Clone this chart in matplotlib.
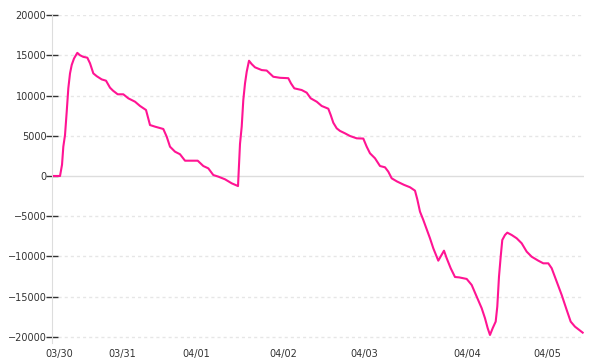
import matplotlib

matplotlib.use("Agg")
import matplotlib.pyplot as plt

# sample position (time index) and cumulative value
t = [2, 8, 10, 11.3, 13, 14.7, 16.3, 18, 19.7, 22, 25.3, 28, 31.3, 35.3, 38,
     41.3, 44.7, 49.7, 54, 58, 61, 65.7, 71.3, 76.3, 83, 88, 94, 98, 103,
     111.3, 114.7, 118, 123, 128, 133, 145.7, 151.3, 156.3, 161.3, 166.3,
     173, 179.7, 186, 188, 189.7, 191.3, 193, 194.7, 197, 199.7, 203, 209.7,
     214.7, 221.3, 228, 236.3, 239, 242.3, 249.7, 254.7, 258.7, 264.7, 269.7,
     276.3, 278.7, 281.3, 284.7, 288, 293, 298, 304.7, 311.3, 314.7, 318,
     323, 328, 333, 336.3, 339.7, 345, 352, 358, 363, 365.3, 368, 371.3,
     374.7, 378, 381.3, 386.3, 392, 394.7, 398.7, 403, 407.3, 414.7, 419.7,
     424.7, 429.7, 433, 435.7, 438, 440.7, 443.7, 445.3, 447, 448.7, 450.3,
     453, 455.3, 459.7, 464.7, 469.7, 474.7, 479.7, 486.3, 491.3, 496.3,
     499.7, 504.7, 509.7, 514.7, 518.7, 523, 530.7]
values = [0, 0, 1400, 3640, 5100, 8000, 10900, 12750, 13800, 14600, 15300,
          15000, 14800, 14700, 14000, 12750, 12400, 12000, 11840, 10970,
          10600, 10150, 10150, 9650, 9230, 8700, 8200, 6330, 6130, 5840, 4880,
          3640, 3020, 2700, 1900, 1900, 1240, 950, 120, -80, -410, -910, -1250,
          4000, 6130, 9440, 11500, 12950, 14320, 13900, 13500, 13160, 13100,
          12330, 12200, 12150, 11500, 10890, 10680, 10350, 9650, 9230, 8700,
          8360, 7580, 6620, 5920, 5600, 5300, 4970, 4680, 4650, 3640, 2820,
          2200, 1240, 1080, 540, -290, -680, -1100, -1400, -1820, -2900, -4430,
          -5460, -6620, -7740, -8980, -10520, -9280, -10220, -11460, -12550,
          -12600, -12790, -13540, -14990, -16430, -17670, -18910, -19750,
          -18910, -18090, -16230, -12510, -10030, -7950, -7330, -7040, -7330,
          -7740, -8360, -9400, -10030, -10520, -10850, -10850, -11460, -13120,
          -14780, -16640, -18090, -18720, -19460]

day_pos = [7, 70, 144, 231, 312, 415, 495]
day_labels = ["03/30", "03/31", "04/01", "04/02", "04/03", "04/04", "04/05"]
y_ticks = [-20000, -15000, -10000, -5000, 0, 5000, 10000, 15000, 20000]

fig = plt.figure(figsize=(6, 3.6), dpi=100)
ax = fig.add_axes([0.0867, 0.0472, 0.8866, 0.9111])

# grid: dashed light lines, solid one at zero
for yv in y_ticks:
    if yv == 0:
        ax.axhline(yv, color="#dddddd", linewidth=1, zorder=1)
    else:
        ax.axhline(yv, color="#e6e6e6", linewidth=1, linestyle=(0, (2.2, 2.2)), zorder=1)

ax.plot(t, values, color="#ff1493", linewidth=1.5, zorder=3)

ax.set_xlim(0, 532)
ax.set_ylim(-20750, 20000)
ax.set_yticks(y_ticks)
ax.set_xticks(day_pos)
ax.set_xticklabels(day_labels)

for side in ["top", "right", "bottom"]:
    ax.spines[side].set_visible(False)
ax.spines["left"].set_color("#dddddd")
ax.tick_params(axis="y", direction="inout", length=8, width=1, color="#333333",
               labelsize=7, labelcolor="#333333", pad=0)
ax.tick_params(axis="x", length=0, labelsize=7, labelcolor="#333333", pad=4)

fig.savefig("out.png", dpi=100)
